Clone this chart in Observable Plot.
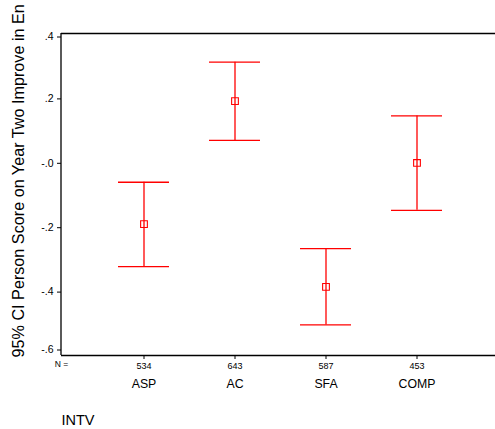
<!DOCTYPE html>
<html>
<head>
<meta charset="utf-8">
<script src="https://cdn.jsdelivr.net/npm/d3@7"></script>
<script src="https://cdn.jsdelivr.net/npm/@observablehq/plot@0.6"></script>
<style>
  html, body { margin: 0; padding: 0; background: #fff; }
  svg { display: block; }
</style>
</head>
<body>
<div id="chart"></div>
<script>
const categories = ["ASP", "AC", "SFA", "COMP"];
const nValues = [534, 643, 587, 453];
const means = [-0.192, 0.190, -0.387, -0.002];
const lowers = [-0.324, 0.068, -0.505, -0.149];
const uppers = [-0.062, 0.311, -0.268, 0.144];
const yTicks = [0.4, 0.2, 0, -0.2, -0.4, -0.6];
const yTickLabels = [".4", ".2", "-.0", "-.2", "-.4", "-.6"];
const yTitle = "95% CI Person Score on Year Two Improve in En";
const xTitle = "INTV";

const rows = categories.map((c, i) => ({cat: c, n: nValues[i], mean: means[i], lo: lowers[i], hi: uppers[i]}));
const yLabel = new Map(yTicks.map((t, i) => [t, yTickLabels[i]]));
const nLabel = new Map(categories.map((c, i) => [c, String(nValues[i])]));
const font = "'Liberation Sans', Arial, Helvetica, sans-serif";
const red = "#ff0000";

const yAxisCommon = {tickSize: 4, tickPadding: 4, fontSize: 10.5, tickFormat: d => yLabel.get(d)};

// left frame line drawn from the plot's own dimensions
function leftLine(index, scales, values, dims) {
  const line = document.createElementNS("http://www.w3.org/2000/svg", "line");
  const x = dims.marginLeft;
  line.setAttribute("x1", x);
  line.setAttribute("x2", x);
  line.setAttribute("y1", scales.y(yTicks[0]));
  line.setAttribute("y2", scales.y(yTicks[yTicks.length - 1]));
  line.setAttribute("stroke", "#000");
  line.setAttribute("stroke-width", 1.3);
  return line;
}

const chart = Plot.plot({
  width: 495,
  height: 429,
  marginLeft: 61,
  marginTop: 33,
  marginRight: 0,
  marginBottom: 74,
  style: {fontFamily: font, color: "#000", background: "#fff", overflow: "hidden"},
  x: {type: "band", domain: categories, range: [76, 484], paddingInner: 0.435, paddingOuter: 0.435, label: null},
  y: {domain: [-0.6, 0.4], label: null},
  marks: [
    Plot.ruleY([yTicks[0], yTicks[yTicks.length - 1]], {stroke: "#000", strokeWidth: 1.3}),
    leftLine,
    Plot.axisY([0.2, 0, -0.2, -0.4], {...yAxisCommon, dy: 1}),
    Plot.axisY([0.4], {...yAxisCommon, dy: 3.5}),
    Plot.axisY([-0.6], {...yAxisCommon, dy: -5.5}),
    Plot.axisX({tickSize: 4, tickPadding: 3, fontSize: 9, tickFormat: d => nLabel.get(d)}),
    Plot.axisX({tickSize: 0, tickPadding: 24, fontSize: 12.3, tickFormat: d => d}),
    Plot.text(["N ="], {frameAnchor: "bottom-left", text: d => d, dy: 11, fontSize: 8.5, textAnchor: "middle"}),
    Plot.text([xTitle], {frameAnchor: "bottom-left", text: d => d, dy: 59, fontSize: 14.5, textAnchor: "start", lineAnchor: "top"}),
    Plot.text([yTitle], {frameAnchor: "bottom-left", text: d => d, dx: -43, dy: 2, rotate: -90, fontSize: 16.2, textAnchor: "start", lineAnchor: "middle"}),
    Plot.ruleX(rows, {x: "cat", y1: "lo", y2: "hi", stroke: red, strokeWidth: 1.3}),
    Plot.tickY(rows, {x: "cat", y: "hi", stroke: red, strokeWidth: 1.3}),
    Plot.tickY(rows, {x: "cat", y: "lo", stroke: red, strokeWidth: 1.3}),
    Plot.dot(rows, {x: "cat", y: "mean", symbol: "square", r: 3.8, stroke: red, fill: "none", strokeWidth: 1.1})
  ]
});
document.getElementById("chart").appendChild(chart);
</script>
</body>
</html>
